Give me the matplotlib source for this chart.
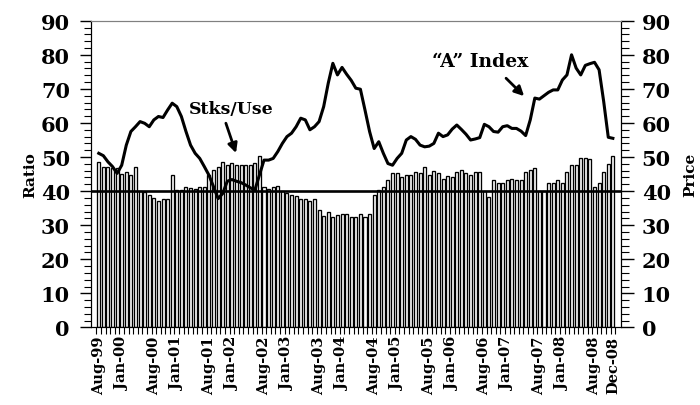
import matplotlib
matplotlib.use("Agg")
import matplotlib.pyplot as plt
from matplotlib.ticker import MultipleLocator, FixedLocator
import numpy as np

mnames = ["Jan", "Feb", "Mar", "Apr", "May", "Jun", "Jul", "Aug", "Sep", "Oct", "Nov", "Dec"]
categories = []
for y in range(1999, 2009):
    for m in range(12):
        if y == 1999 and m < 7:
            continue
        categories.append(f"{mnames[m]}-{str(y)[2:]}")

stocks_to_use = [
    48.5, 47.1, 47.1, 46.8, 46.8, 45.1, 45.5, 44.8, 47.1, 40.0,
    39.7, 38.9, 37.9, 37.0, 37.6, 37.6, 44.8, 40.4, 40.4, 41.1,
    40.8, 40.7, 41.1, 41.1, 44.8, 46.1, 47.1, 48.5, 47.6, 48.2,
    47.8, 47.8, 47.8, 47.8, 48.2, 50.4, 41.2, 40.5, 41.2, 41.4,
    40.0, 39.5, 38.9, 38.5, 37.6, 37.6, 37.0, 37.6, 34.6, 32.8,
    34.0, 32.4, 33.0, 33.3, 33.3, 32.5, 32.5, 33.4, 32.5, 33.4,
    39.0, 40.3, 41.3, 43.2, 45.2, 45.2, 44.0, 44.7, 44.7, 45.5,
    45.2, 47.2, 44.7, 45.9, 45.2, 43.7, 44.4, 44.0, 45.5, 46.2,
    45.2, 44.7, 45.5, 45.5, 40.0, 38.3, 43.2, 42.3, 42.3, 43.2,
    43.7, 43.2, 43.2, 45.5, 46.2, 46.9, 40.0, 40.0, 42.3, 42.3,
    43.2, 42.5, 45.5, 47.6, 47.8, 49.6, 49.6, 49.3, 41.3, 42.3,
    45.5, 48.1, 50.4,
]

a_index = [
    51.1, 50.4, 48.6, 47.2, 45.2, 47.6, 53.5, 57.5, 58.9, 60.4,
    59.9, 58.9, 60.9, 61.9, 61.6, 63.8, 65.8, 64.8, 61.9, 57.5,
    53.5, 51.1, 49.6, 47.2, 44.7, 41.3, 37.8, 39.3, 42.9, 43.4,
    42.9, 42.5, 41.8, 41.0, 40.3, 44.7, 49.1, 49.1, 49.6, 51.6,
    54.0, 56.0, 57.0, 58.9, 61.4, 60.9, 58.0, 58.9, 60.4, 64.8,
    71.7, 77.5, 74.1, 76.3, 74.3, 72.5, 70.2, 69.9, 63.8, 57.5,
    52.5, 54.5, 51.1, 48.1, 47.6, 49.6, 51.1, 55.0, 56.0, 55.2,
    53.5, 53.0, 53.2, 54.0, 57.0, 56.0, 56.5, 58.2, 59.4, 58.1,
    56.7, 55.0, 55.3, 55.7, 59.6, 58.9, 57.5, 57.3, 58.9, 59.2,
    58.4, 58.4, 57.6, 56.3, 60.9, 67.3, 67.0, 68.0, 69.0, 69.7,
    69.7, 72.6, 74.1, 80.0, 76.1, 74.1, 76.9, 77.4, 77.8, 75.6,
    66.3, 55.8, 55.5,
]

tick_labels = ["Aug-99", "Jan-00", "Aug-00", "Jan-01", "Aug-01", "Jan-02",
               "Aug-02", "Jan-03", "Aug-03", "Jan-04", "Aug-04", "Jan-05",
               "Aug-05", "Jan-06", "Aug-06", "Jan-07", "Aug-07", "Jan-08",
               "Aug-08", "Dec-08"]
reference_level = 40

FONT = "DejaVu Serif"

fig = plt.figure(figsize=(7.0, 4.06), dpi=100)
ax = fig.add_axes([0.1296, 0.191, 0.7574, 0.7555])
x = np.arange(len(categories))

ax.bar(x, stocks_to_use, width=0.66, color="white", edgecolor="black",
       linewidth=0.95, zorder=2)
ax.axhline(reference_level, color="black", linewidth=1.9, zorder=3)

ax2 = ax.twinx()
ax2.plot(x, a_index, color="black", linewidth=2.2, zorder=4)

for a in (ax, ax2):
    a.set_ylim(0, 90)
    a.set_xlim(-1.75, len(categories) - 1 + 1.75)

ax.yaxis.set_major_locator(MultipleLocator(10))
ax.yaxis.set_minor_locator(MultipleLocator(2))
ax2.yaxis.set_major_locator(MultipleLocator(10))
ax2.yaxis.set_minor_locator(MultipleLocator(2))

pos = [categories.index(t) for t in tick_labels]
ax.set_xticks(pos)
ax.set_xticklabels(tick_labels, rotation=90, fontfamily=FONT,
                   fontweight="bold", fontsize=10.5)
ax.xaxis.set_minor_locator(FixedLocator(np.arange(-0.5, len(categories), 1)))
ax.tick_params(axis="x", which="major", length=0, pad=6)
ax.tick_params(axis="x", which="minor", length=5, width=0.8, direction="out")

ax.tick_params(axis="y", which="major", length=8, width=1, direction="out",
               pad=7, labelsize=15)
ax.tick_params(axis="y", which="minor", length=5, width=0.8, direction="out")
ax2.tick_params(axis="y", which="major", length=9, width=1, direction="out",
                pad=6, labelsize=15)
ax2.tick_params(axis="y", which="minor", length=6, width=0.8, direction="out")
for lab in ax.get_yticklabels() + ax2.get_yticklabels():
    lab.set_fontfamily(FONT)
    lab.set_fontweight("bold")

for a in (ax, ax2):
    a.spines["top"].set_color("#808080")
    a.spines["left"].set_color("black")
    a.spines["right"].set_color("black")
    a.spines["bottom"].set_color("black")

ax.set_ylabel("Ratio", fontfamily=FONT, fontweight="bold", fontsize=11)
ax.yaxis.set_label_coords(-0.10, 0.5)
ax2.set_ylabel("Price", fontfamily=FONT, fontweight="bold", fontsize=11,
               rotation=90)
ax2.yaxis.set_label_coords(1.118, 0.5)

ax2.text(28.8, 64.3, "Stks/Use", fontfamily=FONT, fontweight="bold",
         fontsize=12.5, ha="center", va="center")
ax2.annotate("", xy=(30.1, 50.4), xytext=(27.5, 60.7),
             arrowprops=dict(arrowstyle="-|>", color="black", lw=2,
                             mutation_scale=14))
ax2.text(83.1, 78.1, "\u201cA\u201d Index", fontfamily=FONT, fontweight="bold",
         fontsize=13.5, ha="center", va="center")
ax2.annotate("", xy=(93.1, 67.3), xytext=(88.3, 73.7),
             arrowprops=dict(arrowstyle="-|>", color="black", lw=2,
                             mutation_scale=14))

fig.savefig("out.png", dpi=100)
